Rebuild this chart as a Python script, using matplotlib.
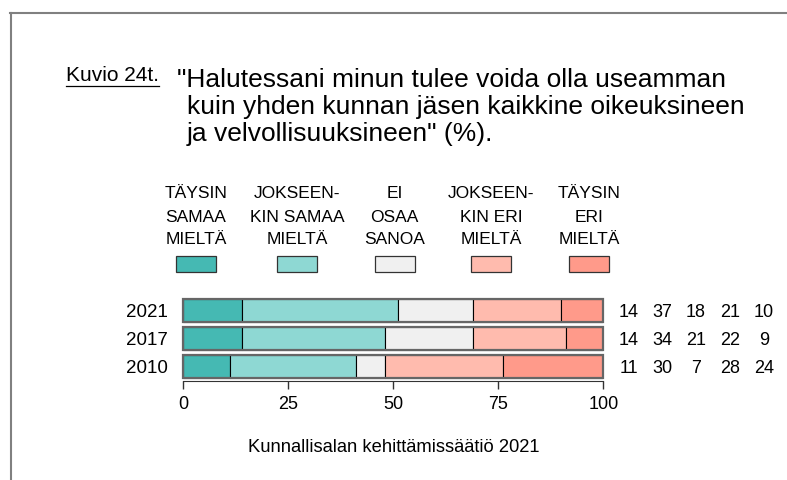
import matplotlib
matplotlib.use("Agg")
import matplotlib.pyplot as plt
from matplotlib.lines import Line2D
from matplotlib.patches import Rectangle

# Data
YEARS = ["2021", "2017", "2010"]
V_2021 = [14, 37, 18, 21, 10]
V_2017 = [14, 34, 21, 22, 9]
V_2010 = [11, 30, 7, 28, 24]
CATEGORIES = [
    ["TÄYSIN", "SAMAA", "MIELTÄ"],
    ["JOKSEEN-", "KIN SAMAA", "MIELTÄ"],
    ["EI", "OSAA", "SANOA"],
    ["JOKSEEN-", "KIN ERI", "MIELTÄ"],
    ["TÄYSIN", "ERI", "MIELTÄ"],
]
XTICKS = [0, 25, 50, 75, 100]

COLORS = ["#45B9B3", "#8ED8D3", "#F0F0F0", "#FFBBAE", "#FF9A8A"]
W, H = 787, 480

plt.rcParams["font.family"] = ["Liberation Sans", "DejaVu Sans"]

fig = plt.figure(figsize=(W / 100, H / 100), dpi=100)


def px(x, y):
    """pixel coords (from top-left) -> figure fraction"""
    return x / W, 1 - y / H


# frame lines (top and left)
fig.add_artist(Line2D([10 / W, 1], [1 - 13 / H] * 2, color="#808080", lw=1.5))
fig.add_artist(Line2D([10.5 / W] * 2, [1 - 13 / H, 0], color="#808080", lw=1.5))

# title
kt = fig.text(*px(66, 81), "Kuvio 24t.", fontsize=15, va="baseline", ha="left")
fig.canvas.draw()
bb = kt.get_window_extent()
fig.add_artist(Line2D([bb.x0 / W, bb.x1 / W], [1 - 86 / H] * 2, color="black", lw=0.9))

fig.text(*px(177, 87), '"Halutessani minun tulee voida olla useamman',
         fontsize=19, va="baseline")
fig.text(*px(187, 114), "kuin yhden kunnan jäsen kaikkine oikeuksineen",
         fontsize=19, va="baseline")
fig.text(*px(187, 141), 'ja velvollisuuksineen" (%).',
         fontsize=19, va="baseline")

# legend
leg_x = [196, 297, 394.5, 491, 589]
for cx, lines, col in zip(leg_x, CATEGORIES, COLORS):
    for j, line in enumerate(lines):
        fig.text(*px(cx, 198.5 + 23 * j), line, fontsize=12.5,
                 ha="center", va="baseline")
    x0, y0 = px(cx - 20, 272)
    fig.add_artist(Rectangle((x0, y0), 40 / W, 16 / H, transform=fig.transFigure,
                             facecolor=col, edgecolor="#333333", lw=0.9))

# bars
ax = fig.add_axes([183.3 / W, (H - 380.7) / H, 420 / W, 81.96 / H])
rows = [V_2021, V_2017, V_2010]
for i, vals in enumerate(rows):
    left = 0
    for v, col in zip(vals, COLORS):
        ax.barh(i, v, left=left, height=0.786, color=col,
                edgecolor="black", linewidth=0.8)
        left += v
    ax.add_patch(Rectangle((0, i - 0.393), left, 0.786, fill=False,
                           edgecolor="#666666", lw=1.6, clip_on=False, zorder=3))
    for j, v in enumerate(vals):
        ax.text(106 + j * 8.05, i, str(v), fontsize=13, ha="center",
                va="center_baseline", clip_on=False)

ax.set_xlim(0, 100)
ax.set_ylim(2.507, -0.42)
ax.set_yticks(range(len(YEARS)))
ax.set_yticklabels(YEARS, fontsize=13.5)
ax.tick_params(axis="y", length=0, pad=11)
ax.set_xticks(XTICKS)
ax.tick_params(axis="x", length=6, width=1, color="#333333", labelsize=13, pad=5)
for s in ["top", "right", "left"]:
    ax.spines[s].set_visible(False)
ax.spines["bottom"].set_bounds(0, 100)
ax.spines["bottom"].set_color("#333333")
ax.set_facecolor("none")

fig.text(*px(394, 451.5), "Kunnallisalan kehittämissäätiö 2021", fontsize=13.2,
         ha="center", va="baseline")

fig.savefig("out.png", dpi=100)
